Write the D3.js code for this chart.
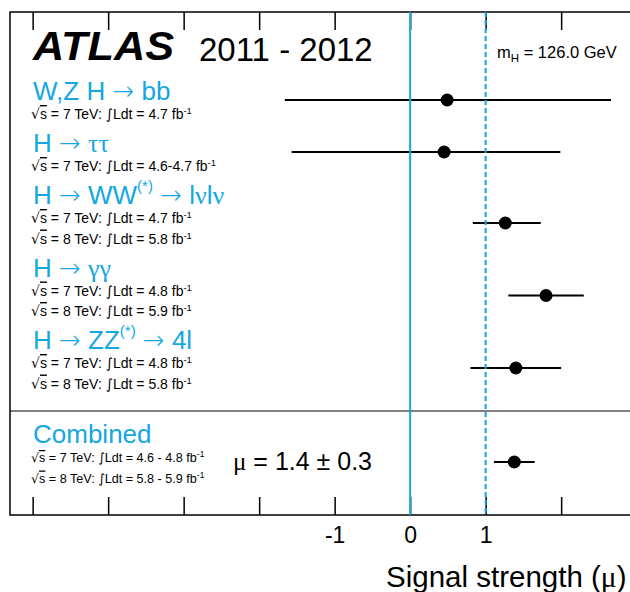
<!DOCTYPE html>
<html>
<head>
<meta charset="utf-8">
<script src="https://cdn.jsdelivr.net/npm/d3@7"></script>
<style>
body { margin: 0; background: #fff; overflow: hidden; }
text { font-family: "Liberation Sans", Arial, sans-serif; }
</style>
</head>
<body>
<div id="viz-container"></div>
<script>
// channel titles, odd parts are superscripts
const channelTitles = [
    ["W,Z H \u2192 bb"],
    ["H \u2192 \u03c4\u03c4"],
    ["H \u2192 WW", "(*)", " \u2192 l\u03bdl\u03bd"],
    ["H \u2192 \u03b3\u03b3"],
    ["H \u2192 ZZ", "(*)", " \u2192 4l"]
];
const channelEnergies = [["7"], ["7"], ["7", "8"], ["7", "8"], ["7", "8"]];
const channelLumi = [["4.7"], ["4.6-4.7"], ["4.7", "5.8"], ["4.8", "5.9"], ["4.8", "5.8"]];
const muValues = [0.49, 0.45, 1.26, 1.80, 1.40];
const muErrDown = [2.15, 2.02, 0.43, 0.50, 0.60];
const muErrUp = [2.17, 1.54, 0.47, 0.50, 0.60];

const combinedTitle = "Combined";
const combinedEnergies = ["7", "8"];
const combinedLumi = ["4.6 - 4.8", "5.8 - 5.9"];
const combinedMu = 1.38;
const combinedErrDown = 0.27;
const combinedErrUp = 0.27;
const combinedLabel = "\u03bc = 1.4 \u00b1 0.3";

const xTicks = [-5, -4, -3, -2, -1, 0, 1, 2, 3];
const labelledTicks = [-1, 0, 1];
const smLine = 1;
const massLabel = "126.0 GeV";

let blue = "#13a7e3";

let viz = d3.select("#viz-container")
    .append("svg")
        .attr("width", 630)
        .attr("height", 592);

let x = d3.scaleLinear().domain([-5.3, 3.2]).range([10, 651.75]);
let yTop = 12, yBottom = 515;

// arrows and math signs from DejaVu, greek letters from a serif face (like ROOT's Symbol font)
function fontFor(c){
    if ("\u2192\u221a\u222b".includes(c)) return "math";
    if (c >= "\u0370" && c <= "\u03ff") return "greek";
    return "plain";
}
function richText(t, str, dy){
    let runs = [];
    for (let c of str) {
        let f = fontFor(c);
        if (runs.length && runs[runs.length - 1].f == f) runs[runs.length - 1].s += c;
        else runs.push({f: f, s: c});
    }
    runs.forEach(function(r, i){
        let sp = t.append("tspan").text(r.s);
        if (i == 0 && dy) sp.attr("dy", dy);
        if (r.f == "math") sp.style("font-family", "'DejaVu Sans'").style("font-weight", 300);
        if (r.f == "greek") sp.style("font-family", "'Liberation Serif'");
    });
    return t;
}

// frame
viz.append("rect")
    .attr("x", 10).attr("y", yTop)
    .attr("width", 660).attr("height", yBottom - yTop)
    .attr("fill", "none").attr("stroke", "black").attr("stroke-width", 1.5);

viz.append("line")
    .attr("x1", 10).attr("x2", 640)
    .attr("y1", 411).attr("y2", 411)
    .attr("stroke", "black").attr("stroke-width", 1);

// ticks
let topAxis = viz.append("g")
    .attr("transform", "translate(0," + yTop + ")")
    .call(d3.axisTop(x).tickValues(xTicks).tickSizeInner(-18).tickSizeOuter(0).tickFormat(""));
topAxis.select(".domain").remove();

let bottomAxis = viz.append("g")
    .attr("transform", "translate(0," + yBottom + ")")
    .call(d3.axisBottom(x).tickValues(xTicks).tickSizeInner(-18).tickSizeOuter(0).tickPadding(12)
        .tickFormat(d => labelledTicks.includes(d) ? String(d) : ""));
bottomAxis.select(".domain").remove();
bottomAxis.selectAll("text").style("font-size", "23px").attr("fill", "black");
viz.selectAll(".tick line").attr("stroke", "black").attr("stroke-width", 1.5);

richText(viz.append("text").attr("x", 386).attr("y", 587).style("font-size", "29.5px"),
    "Signal strength (\u03bc)");

// header
viz.append("text")
    .attr("x", 33).attr("y", 59.5)
    .attr("textLength", 141).attr("lengthAdjust", "spacingAndGlyphs")
    .style("font-size", "40px").style("font-weight", "bold").style("font-style", "italic")
    .text("ATLAS");

viz.append("text")
    .attr("x", 199).attr("y", 61)
    .style("font-size", "33px")
    .text("2011 - 2012");

let mh = viz.append("text").attr("x", 497).attr("y", 58).style("font-size", "16.5px");
mh.append("tspan").text("m");
mh.append("tspan").attr("dy", 4).style("font-size", "11.5px").text("H");
mh.append("tspan").attr("dy", -4).text(" = " + massLabel);

// row layout
let rows = [];
let yCur = 100;
channelTitles.forEach(function(t, i){
    let n = channelEnergies[i].length;
    let subs = channelEnergies[i].map((e, j) => yCur + 19 + j * 20.5);
    rows.push({title: t, y: yCur, subs: subs, pointY: yCur + (n - 1) * 19,
        energies: channelEnergies[i], lumi: channelLumi[i],
        mu: muValues[i], lo: muValues[i] - muErrDown[i], hi: muValues[i] + muErrUp[i], small: false});
    yCur = subs[subs.length - 1] + 33;
});
let cy = 443;
rows.push({title: [combinedTitle], y: cy, subs: [cy + 19, cy + 39.5], pointY: cy + 19,
    energies: combinedEnergies, lumi: combinedLumi,
    mu: combinedMu, lo: combinedMu - combinedErrDown, hi: combinedMu + combinedErrUp, small: true});

function subtitle(px, py, energy, lumi, small){
    let t = viz.append("text").attr("x", px).attr("y", py).style("font-size", small ? "12.6px" : "14px");
    t.append("tspan").style("font-family", "'DejaVu Sans'").text("\u221a");
    t.append("tspan").style("text-decoration", "overline").text("s");
    t.append("tspan").text(" = " + energy + " TeV:" + (small ? "  " : " "));
    t.append("tspan").style("font-family", "'DejaVu Sans'").text("\u222b");
    t.append("tspan").text("Ldt = " + lumi + " fb");
    t.append("tspan").attr("dy", -5).style("font-size", small ? "8.5px" : "9.5px").text("-1");
}

rows.forEach(function(r){
    let t = viz.append("text").attr("x", 33).attr("y", r.y).style("font-size", "26px").attr("fill", blue);
    r.title.forEach(function(part, k){
        if (k % 2 == 1) {
            t.append("tspan").attr("dy", -13).style("font-size", "15px").text(part);
        } else {
            richText(t, part, k > 0 ? 13 : 0);
        }
    });
    r.subs.forEach((sy, j) => subtitle(31, sy, r.energies[j], r.lumi[j], r.small));
});

richText(viz.append("text").attr("x", 233).attr("y", 470).style("font-size", "25px"), combinedLabel);

// error bars
viz.selectAll(".errBar").data(rows).enter().append("line")
    .attr("class", "errBar")
    .attr("x1", d => x(d.lo)).attr("x2", d => x(d.hi))
    .attr("y1", d => d.pointY).attr("y2", d => d.pointY)
    .attr("stroke", "black").attr("stroke-width", 2);

// SM and zero lines
viz.append("line")
    .attr("x1", x(0)).attr("x2", x(0))
    .attr("y1", yTop).attr("y2", yBottom)
    .attr("stroke", blue).attr("stroke-width", 2);
viz.append("line")
    .attr("x1", x(smLine)).attr("x2", x(smLine))
    .attr("y1", yTop).attr("y2", yBottom)
    .attr("stroke", blue).attr("stroke-width", 2)
    .attr("stroke-dasharray", "5,3");

viz.selectAll(".muPoint").data(rows).enter().append("circle")
    .attr("class", "muPoint")
    .attr("cx", d => x(d.mu)).attr("cy", d => d.pointY)
    .attr("r", 6.5)
    .attr("fill", "black");
</script>
</body>
</html>
